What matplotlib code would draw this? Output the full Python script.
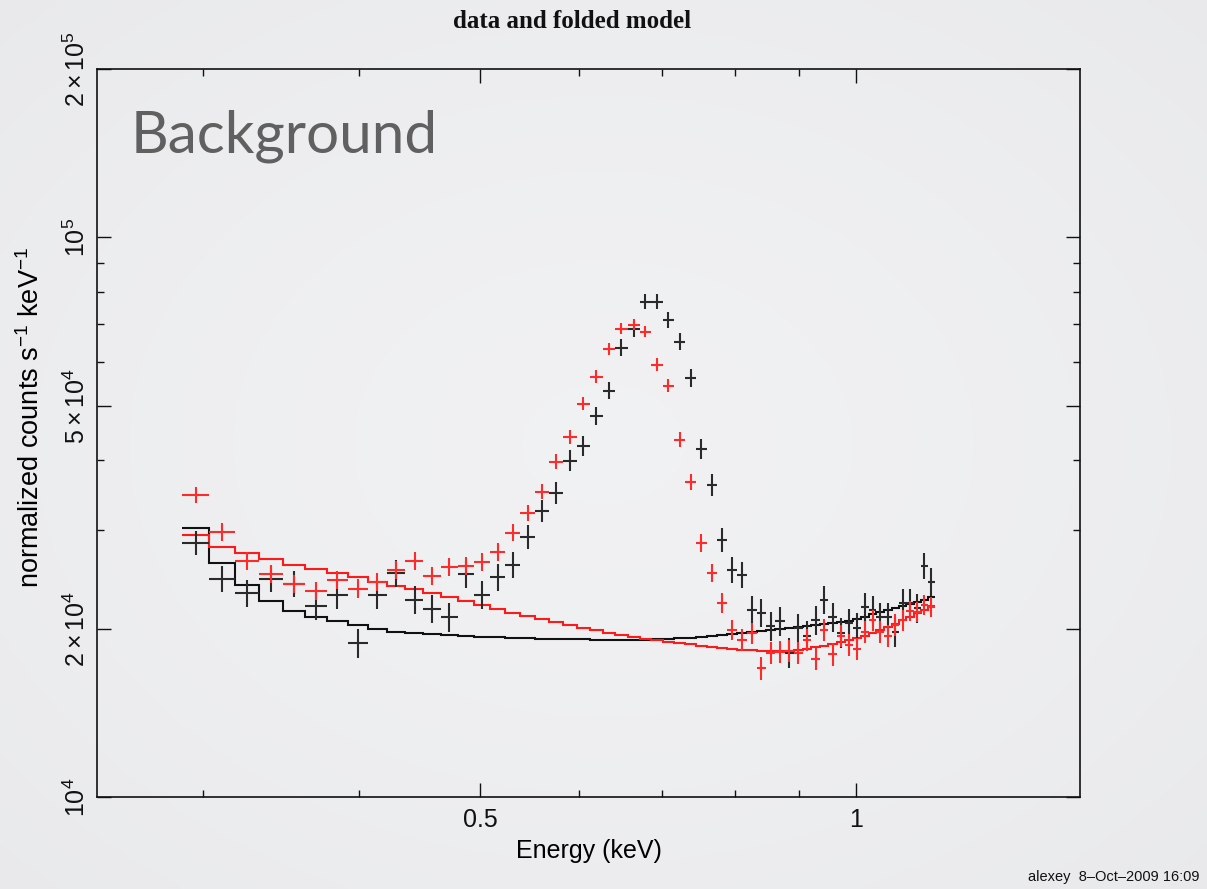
import matplotlib
matplotlib.use("Agg")
import matplotlib.pyplot as plt
import numpy as np
from matplotlib.ticker import FixedLocator, NullFormatter

# channel centres (keV), shared by both spectra
energy = [
    0.2962, 0.3109, 0.3256, 0.3403, 0.3550, 0.3697, 0.3844, 0.3991, 0.4138, 0.4285,
    0.4432, 0.4579, 0.4726, 0.4873, 0.5020, 0.5167, 0.5314, 0.5461, 0.5608, 0.5755,
    0.5902, 0.6049, 0.6196, 0.6343, 0.6490, 0.6637, 0.6784, 0.6931, 0.7078, 0.7225,
    0.7372, 0.7519, 0.7666, 0.7813, 0.7960, 0.8107, 0.8254, 0.8401, 0.8548, 0.8695,
    0.8842, 0.8989, 0.9136, 0.9283, 0.9430, 0.9577, 0.9724, 0.9871, 1.0018, 1.0165,
    1.0312, 1.0459, 1.0606, 1.0753, 1.0900, 1.1047, 1.1194, 1.1341, 1.1488,
]
bin_halfwidth = 0.00735

# normalized counts s^-1 keV^-1
black_data = [
    28470, 24550, 23170, 24550, 24050, 21960, 22980, 18860, 22980, 25160,
    22510, 21690, 20990, 25060, 22980, 24750, 26000, 29180, 32480, 34980,
    39910, 42460, 48040, 53250, 63570, 68740, 76820, 76820, 71340, 65160,
    56180, 41940, 36150, 28820, 25470, 24950, 21600, 21340, 20230, 20650,
    18100, 20060, 19410, 20730, 22510, 20990, 19650, 20480, 20060, 21870,
    21600, 20990, 20990, 19730, 22240, 22240, 21780, 25900, 24250,
]
red_data = [
    34690, 29790, 26440, 25060, 24050, 23360, 24440, 23560, 24250, 25470,
    26440, 24850, 25790, 25900, 26330, 27430, 29670, 32210, 35130, 39750,
    44050, 50470, 56410, 63300, 68740, 69880, 67890, 59270, 54360, 43510,
    36600, 28470, 25160, 22240, 19900, 19090, 19650, 17010, 18100, 18170,
    18250, 18100, 19090, 17660, 19900, 18020, 19410, 18700, 18400, 19730,
    20730, 19730, 19410, 20310, 20730, 21520, 21430, 22050, 21870,
]
# fractional 1-sigma errors
black_err = [
    0.050, 0.055, 0.055, 0.055, 0.055, 0.058, 0.058, 0.060, 0.058, 0.056,
    0.058, 0.058, 0.060, 0.056, 0.058, 0.055, 0.054, 0.050, 0.047, 0.045,
    0.043, 0.041, 0.038, 0.036, 0.034, 0.033, 0.032, 0.032, 0.033, 0.034,
    0.037, 0.042, 0.045, 0.050, 0.053, 0.054, 0.057, 0.058, 0.059, 0.059,
    0.062, 0.060, 0.061, 0.060, 0.058, 0.060, 0.061, 0.060, 0.061, 0.059,
    0.059, 0.060, 0.060, 0.061, 0.058, 0.058, 0.059, 0.055, 0.057,
]
red_err = [
    0.032, 0.036, 0.037, 0.038, 0.038, 0.039, 0.038, 0.039, 0.038, 0.037,
    0.037, 0.038, 0.037, 0.037, 0.037, 0.036, 0.035, 0.033, 0.031, 0.030,
    0.028, 0.027, 0.026, 0.025, 0.024, 0.024, 0.024, 0.026, 0.027, 0.030,
    0.032, 0.036, 0.038, 0.040, 0.043, 0.044, 0.043, 0.047, 0.045, 0.045,
    0.045, 0.046, 0.044, 0.047, 0.044, 0.047, 0.045, 0.046, 0.046, 0.045,
    0.043, 0.045, 0.045, 0.044, 0.043, 0.042, 0.042, 0.041, 0.042,
]

# folded models
black_model = [
    30280, 26220, 23950, 22420, 21520, 20990, 20650, 20310, 19980, 19730,
    19650, 19570, 19490, 19410, 19330, 19290, 19250, 19210, 19170, 19170,
    19130, 19130, 19090, 19090, 19090, 19090, 19090, 19130, 19170, 19210,
    19250, 19330, 19410, 19490, 19570, 19650, 19730, 19810, 19900, 19980,
    20060, 20140, 20230, 20310, 20390, 20480, 20560, 20650, 20820, 20990,
    21250, 21430, 21600, 21780, 21960, 22150, 22330, 22510, 22790,
]
red_model = [
    29420, 28000, 27320, 26650, 26000, 25580, 25160, 24750, 24250, 23850,
    23560, 23170, 22790, 22420, 22050, 21690, 21340, 21080, 20820, 20560,
    20310, 20060, 19900, 19650, 19490, 19330, 19170, 19090, 18940, 18860,
    18780, 18630, 18550, 18470, 18400, 18320, 18290, 18250, 18250, 18250,
    18250, 18320, 18400, 18550, 18630, 18780, 18940, 19090, 19250, 19410,
    19650, 19900, 20140, 20390, 20730, 20990, 21340, 21600, 21960,
]

plt.rcParams.update({
    "font.family": ["Liberation Sans", "DejaVu Sans"],
    "mathtext.fontset": "custom",
    "mathtext.rm": "Liberation Sans",
    "mathtext.it": "Liberation Sans",
})

fig = plt.figure(figsize=(12.07, 8.89), dpi=100)

# soft slide-style backdrop
bg = fig.add_axes([0, 0, 1, 1], zorder=-10)
yy, xx = np.mgrid[-1:1:200j, -1:1:300j]
rr = np.sqrt(xx ** 2 + yy ** 2)
shade = 0.948 - 0.030 * np.clip(rr / 1.4, 0, 1) ** 1.5
bg.imshow(np.dstack([shade - 0.004, shade - 0.002, shade + 0.006]).clip(0, 1),
          aspect="auto", extent=[0, 1, 0, 1], interpolation="bicubic")
bg.axis("off")

ax = fig.add_axes([97 / 1207, 1 - 797 / 889, 983 / 1207, 728 / 889])
ax.set_facecolor("none")
ax.set_xscale("log")
ax.set_yscale("log")
ax.set_xlim(0.2468, 1.5114)
ax.set_ylim(1e4, 2e5)

e = np.asarray(energy)
edges = np.append(e - bin_halfwidth, e[-1] + bin_halfwidth)

ax.stairs(black_model, edges, baseline=None, color="#111111", linewidth=1.5, zorder=3)
ax.stairs(red_model, edges, baseline=None, color="#ff1a1a", linewidth=1.5, zorder=3)

for vals, errs, col in ((black_data, black_err, "#2a2a2a"), (red_data, red_err, "#ff2a2a")):
    v = np.asarray(vals, dtype=float)
    ax.errorbar(e, v, xerr=bin_halfwidth, yerr=v * np.asarray(errs),
                fmt="none", ecolor=col, elinewidth=1.5, capsize=0, zorder=4)

# axis ticks in the style of the original plotting package
ax.xaxis.set_major_locator(FixedLocator([0.5, 1.0]))
ax.xaxis.set_minor_locator(FixedLocator([0.3, 0.4, 0.6, 0.7, 0.8, 0.9]))
ax.set_xticklabels(["0.5", "1"])
ax.xaxis.set_minor_formatter(NullFormatter())

ax.yaxis.set_major_locator(FixedLocator([1e4, 2e4, 5e4, 1e5, 2e5]))
ax.yaxis.set_minor_locator(FixedLocator([3e4, 4e4, 6e4, 7e4, 8e4, 9e4]))
ax.yaxis.set_minor_formatter(NullFormatter())
ax.set_yticklabels([r"$10^4$", r"$2\times10^4$", r"$5\times10^4$", r"$10^5$", r"$2\times10^5$"],
                   rotation=90, va="center")

ax.tick_params(which="both", direction="in", top=True, right=True, colors="#111111",
               labelsize=18, width=1.0)
ax.tick_params(which="major", length=10, pad=8)
ax.tick_params(axis="y", which="major", pad=5)
ax.tick_params(which="minor", length=5)
for s in ax.spines.values():
    s.set_linewidth(1.2)
    s.set_color("#111111")

ax.set_xlabel("Energy (keV)", fontsize=18, labelpad=5)
ax.set_ylabel(r"normalized counts s$^{-1}$ keV$^{-1}$", fontsize=19.5)
ax.yaxis.set_label_coords(-0.053, 0.521)

fig.text(572 / 1207, 1 - 21 / 889, "data and folded model", ha="center", va="center",
         fontsize=18, fontweight="bold", family="Liberation Serif", color="#111111")
ax.text(131 / 1207, 1 - 136 / 889, "Background", transform=fig.transFigure,
        ha="left", va="center", fontsize=42, family="Lato", fontweight="normal",
        color="#606060")
fig.text(1200 / 1207, 1 - 877 / 889, "alexey  8\u2013Oct\u20132009 16:09", ha="right",
         va="center", fontsize=10.5, color="#111111")

fig.savefig("out.png", dpi=100)
